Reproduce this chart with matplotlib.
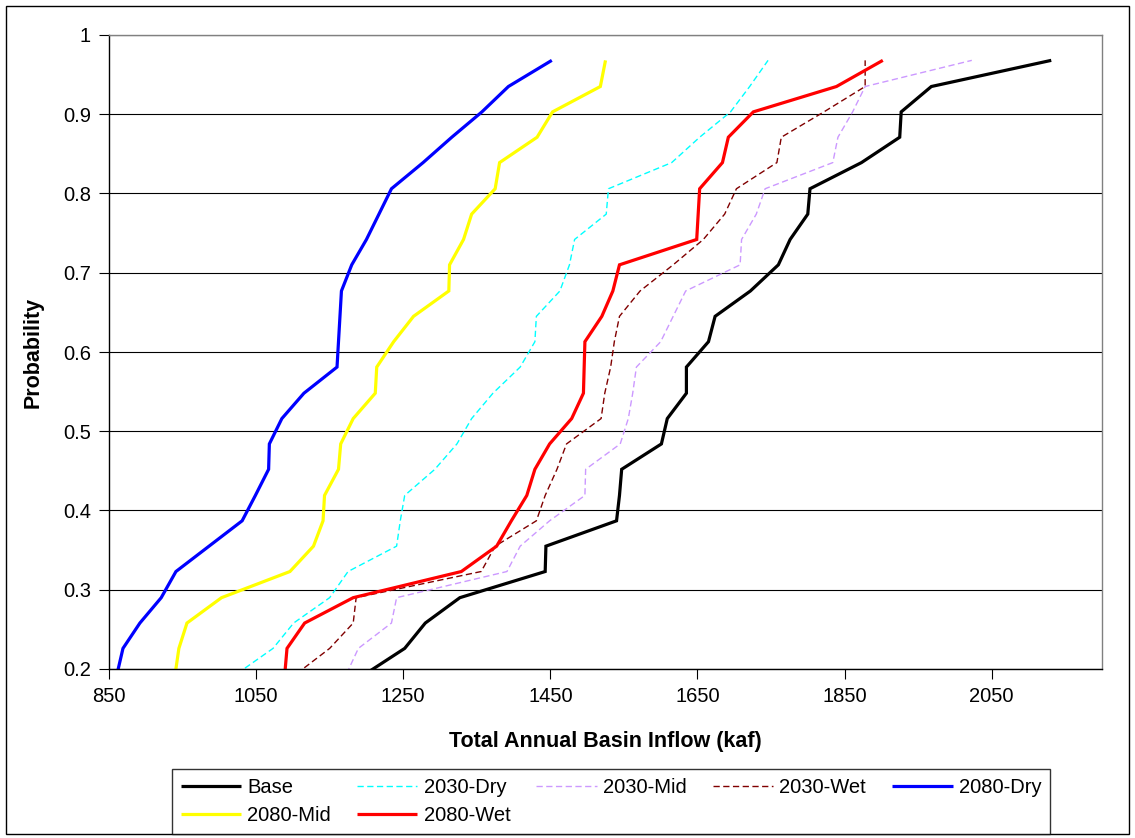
import matplotlib
matplotlib.use("Agg")
import matplotlib.pyplot as plt
from matplotlib.patches import Rectangle

plt.rcParams['font.family'] = ['Liberation Sans', 'DejaVu Sans']

# Exceedance probability levels
prob = [0.194, 0.226, 0.258, 0.290, 0.323, 0.355, 0.387, 0.419, 0.452, 0.484,
        0.516, 0.548, 0.581, 0.613, 0.645, 0.677, 0.710, 0.742, 0.774, 0.806,
        0.839, 0.871, 0.903, 0.935, 0.968]

base = [1199, 1252, 1280, 1327, 1443, 1444, 1540, 1544, 1547, 1601, 1609, 1635, 1635,
        1665, 1674, 1722, 1760, 1776, 1800, 1803, 1873, 1925, 1927, 1968, 2131]
dry2030 = [1024, 1073, 1101, 1150, 1175, 1241, 1246, 1252, 1293, 1323, 1343, 1372, 1409,
           1429, 1431, 1463, 1476, 1483, 1526, 1529, 1615, 1653, 1695, 1721, 1746]
mid2030 = [1173, 1189, 1234, 1241, 1391, 1409, 1449, 1497, 1498, 1545, 1556, 1562, 1567,
           1600, 1617, 1634, 1708, 1710, 1730, 1742, 1834, 1841, 1861, 1878, 2023]
wet2030 = [1105, 1150, 1182, 1186, 1356, 1375, 1431, 1443, 1459, 1472, 1519, 1524, 1532,
           1537, 1544, 1572, 1617, 1658, 1687, 1703, 1758, 1764, 1822, 1878, 1878]
dry2080 = [861, 869, 892, 921, 941, 986, 1031, 1049, 1067, 1068, 1085, 1115, 1160,
           1162, 1164, 1166, 1180, 1200, 1217, 1234, 1277, 1316, 1357, 1393, 1452]
mid2080 = [940, 945, 956, 1003, 1096, 1128, 1141, 1143, 1162, 1165, 1182, 1212, 1214,
           1237, 1264, 1312, 1313, 1332, 1343, 1375, 1381, 1432, 1453, 1518, 1525]
wet2080 = [1089, 1092, 1116, 1182, 1329, 1377, 1397, 1418, 1429, 1449, 1479, 1495, 1496,
           1497, 1520, 1535, 1544, 1649, 1651, 1653, 1684, 1692, 1726, 1839, 1902]

series_names = ["Base", "2030-Dry", "2030-Mid", "2030-Wet", "2080-Dry", "2080-Mid", "2080-Wet"]
series_data = [base, dry2030, mid2030, wet2030, dry2080, mid2080, wet2080]

xticks = [850, 1050, 1250, 1450, 1650, 1850, 2050]
yticks = [0.2, 0.3, 0.4, 0.5, 0.6, 0.7, 0.8, 0.9, 1.0]
ytick_labels = ["0.2", "0.3", "0.4", "0.5", "0.6", "0.7", "0.8", "0.9", "1"]

styles = {
    "Base": dict(color="#000000", lw=2.3, ls="-"),
    "2030-Dry": dict(color="#00FFFF", lw=1.0, dashes=(4.5, 2.5)),
    "2030-Mid": dict(color="#CC99FF", lw=1.0, dashes=(4.5, 2.5)),
    "2030-Wet": dict(color="#800000", lw=1.0, dashes=(4.5, 2.5)),
    "2080-Dry": dict(color="#0000FF", lw=2.3, ls="-"),
    "2080-Mid": dict(color="#FFFF00", lw=2.3, ls="-"),
    "2080-Wet": dict(color="#FF0000", lw=2.3, ls="-"),
}

W, H = 1135, 838
fig = plt.figure(figsize=(W / 100, H / 100), dpi=100)
fig.patch.set_facecolor("white")

L, R, T, B = 109, 1102, 35, 669
ax = fig.add_axes([L / W, 1 - B / H, (R - L) / W, (B - T) / H])

handles = {}
for name, data in zip(series_names, series_data):
    st = dict(styles[name])
    dashes = st.pop("dashes", None)
    ln, = ax.plot(data, prob, solid_joinstyle="miter", solid_capstyle="butt", **st)
    if dashes is not None:
        ln.set_dashes(dashes)
    handles[name] = ln

ax.set_xlim(850, 2200)
ax.set_ylim(0.2, 1.0)
ax.set_xticks(xticks)
ax.set_xticklabels([str(v) for v in xticks])
ax.set_yticks(yticks)
ax.set_yticklabels(ytick_labels)
ax.tick_params(axis="both", direction="out", length=7, width=0.8, color="#000000",
               labelsize=14.5, pad=6)
ax.yaxis.grid(True, color="#000000", lw=0.8)
ax.set_axisbelow(True)
for s in ["left", "bottom"]:
    ax.spines[s].set_color("#000000")
    ax.spines[s].set_linewidth(1.0)
for s in ["top", "right"]:
    ax.spines[s].set_color("#808080")
    ax.spines[s].set_linewidth(1.0)

ax.set_xlabel("Total Annual Basin Inflow (kaf)", fontsize=15.5, fontweight="bold", labelpad=18)
ax.set_ylabel("Probability", fontsize=15.5, fontweight="bold", labelpad=14)

order = ["Base", "2080-Mid", "2030-Dry", "2080-Wet", "2030-Mid", "2030-Wet", "2080-Dry"]
leg = fig.legend([handles[n] for n in order], order, ncol=5, loc="upper center",
                 bbox_to_anchor=(611 / W, 1 - 769 / H), fontsize=14.5, frameon=True,
                 fancybox=False, edgecolor="#000000", handlelength=3.0, handletextpad=0.3,
                 columnspacing=1.3, borderpad=0.45, labelspacing=0.45, borderaxespad=0)
leg.get_frame().set_linewidth(1.0)

fig.patches.append(Rectangle((6 / W, 1 - 834 / H), (1129 - 6) / W, (834 - 6) / H,
                             transform=fig.transFigure, fill=False, edgecolor="#000000",
                             lw=1.0))

fig.savefig("out.png", dpi=100, facecolor="white")
